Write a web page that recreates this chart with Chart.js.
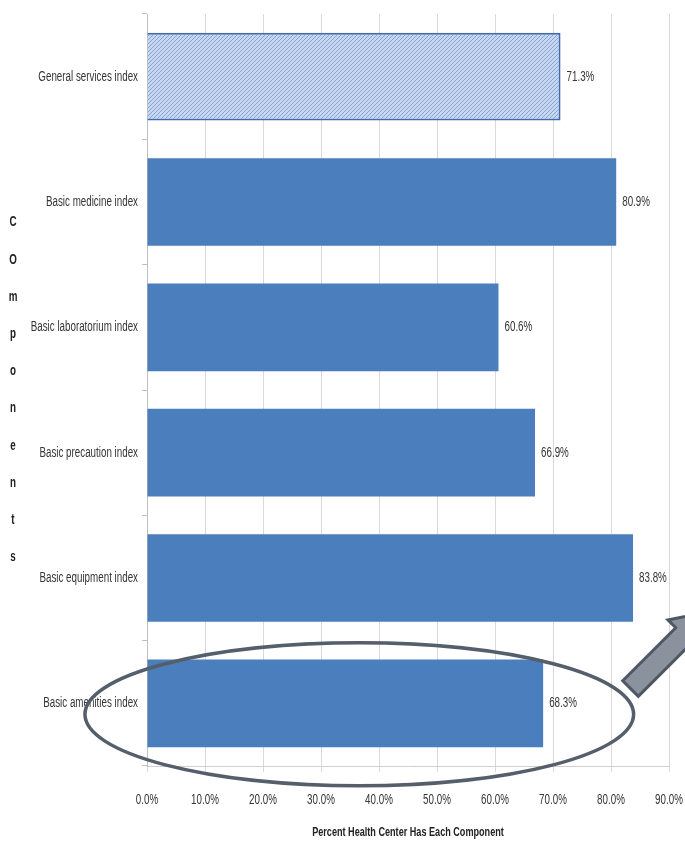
<!DOCTYPE html>
<html><head><meta charset="utf-8">
<script src="https://cdn.jsdelivr.net/npm/chart.js@4"></script>
<style>html,body{margin:0;padding:0;background:#fff;}</style>
</head><body>
<canvas id="c" width="685" height="849"></canvas>
<script>
const categories = ['General services index','Basic medicine index','Basic laboratorium index','Basic precaution index','Basic equipment index','Basic amenities index'];
const values = [71.3, 80.9, 60.6, 66.9, 83.8, 68.3];
const xTickValues = [0, 10, 20, 30, 40, 50, 60, 70, 80, 90];
const xAxisTitle = 'Percent Health Center Has Each Component';
const yAxisTitleLetters = ['C','O','m','p','o','n','e','n','t','s'];

const FONT = "'Liberation Sans', Arial, sans-serif";
const TXT = '#353535';
const TEXT_SX = 0.7; // horizontal condensing of all text

const canvas = document.getElementById('c');
const ctx2d = canvas.getContext('2d');
const nativeFill = ctx2d.fillText.bind(ctx2d);
ctx2d.fillText = function(text, x, y, maxWidth){
  this.save();
  this.translate(x, y);
  this.scale(TEXT_SX, 1);
  if (maxWidth === undefined || maxWidth === null) nativeFill(text, 0, 0);
  else nativeFill(text, 0, 0, maxWidth / TEXT_SX);
  this.restore();
};

function makePattern(){
  const p = document.createElement('canvas'); p.width = 4; p.height = 4;
  const g = p.getContext('2d');
  g.fillStyle = '#c6d7ef'; g.fillRect(0,0,4,4);
  g.fillStyle = '#86a5d6';
  for (let i = 0; i < 4; i++) g.fillRect(i, 3 - i, 1, 1);
  return g.createPattern(p, 'repeat');
}
const hatch = makePattern();

const valueLabelPlugin = {
  id: 'valueLabels',
  afterDatasetsDraw(chart){
    const ctx = chart.ctx;
    const meta = chart.getDatasetMeta(0);
    ctx.save();
    ctx.font = '14px ' + FONT;
    ctx.fillStyle = TXT;
    ctx.textAlign = 'left';
    ctx.textBaseline = 'middle';
    meta.data.forEach((bar, i) => {
      ctx.fillText(values[i].toFixed(1) + '%', bar.x + 6, bar.y);
    });
    ctx.restore();
  }
};

const yTitlePlugin = {
  id: 'yTitle',
  afterDraw(chart){
    const ctx = chart.ctx;
    const a = chart.chartArea;
    const mid = (a.top + a.bottom) / 2;
    const step = 37.2;
    ctx.save();
    ctx.font = 'bold 14px ' + FONT;
    ctx.fillStyle = '#222';
    ctx.textAlign = 'center';
    ctx.textBaseline = 'middle';
    yAxisTitleLetters.forEach((ch, i) => {
      ctx.fillText(ch, 13, mid + (i - (yAxisTitleLetters.length - 1) / 2) * step);
    });
    ctx.restore();
  }
};

const annotationPlugin = {
  id: 'highlight',
  afterDraw(chart){
    const ctx = chart.ctx;
    const xs = chart.scales.x, ys = chart.scales.y;
    const cx = xs.getPixelForValue(36.6);
    const rx = xs.getPixelForValue(47.3) - xs.getPixelForValue(0);
    const cy = ys.getPixelForValue(5) + 11;
    const ry = 71.5;
    ctx.save();
    ctx.strokeStyle = '#555e6b';
    ctx.lineWidth = 3.5;
    ctx.beginPath();
    ctx.ellipse(cx, cy, rx, ry, 0, 0, Math.PI * 2);
    ctx.stroke();

    // arrow pointing up-right
    const tx = 630.5, ty = 688.5;
    const dx = Math.SQRT1_2, dy = -Math.SQRT1_2;
    const nx = Math.SQRT1_2, ny = Math.SQRT1_2;
    const pt = (along, perp) => [tx + dx * along + nx * perp, ty + dy * along + ny * perp];
    const sw = 11, base = 75, hw = 22, tip = 108;
    const pts = [pt(0,-sw), pt(base,-sw), pt(base,-hw), pt(tip,0), pt(base,hw), pt(base,sw), pt(0,sw)];
    ctx.beginPath();
    ctx.moveTo(pts[0][0], pts[0][1]);
    for (let i = 1; i < pts.length; i++) ctx.lineTo(pts[i][0], pts[i][1]);
    ctx.closePath();
    ctx.fillStyle = '#8a929d';
    ctx.fill();
    ctx.strokeStyle = '#4f5764';
    ctx.lineWidth = 3;
    ctx.stroke();
    ctx.restore();
  }
};

new Chart(canvas, {
  type: 'bar',
  data: {
    labels: categories,
    datasets: [{
      data: values,
      backgroundColor: values.map((v, i) => i === 0 ? hatch : '#4a7ebd'),
      borderColor: '#4169ad',
      borderWidth: (c) => c.dataIndex === 0 ? 2 : 0,
      borderSkipped: 'start',
      barPercentage: 0.7,
      categoryPercentage: 1.0
    }]
  },
  options: {
    indexAxis: 'y',
    responsive: false,
    devicePixelRatio: 1,
    animation: false,
    layout: { padding: { top: 14, right: 16, left: 0, bottom: 0 } },
    plugins: { legend: { display: false }, tooltip: { enabled: false } },
    scales: {
      x: {
        type: 'linear',
        min: 0, max: 90,
        afterBuildTicks: (s) => { s.ticks = xTickValues.map(v => ({ value: v })); },
        ticks: {
          callback: (v) => Number(v).toFixed(1) + '%',
          color: TXT,
          font: { family: FONT, size: 14 },
          padding: 20,
          maxRotation: 0
        },
        grid: { color: '#d9d9d9', tickLength: 6, drawTicks: true },
        border: { color: '#cfcfcf' },
        title: {
          display: true,
          text: xAxisTitle,
          color: '#222',
          font: { family: FONT, size: 13, weight: 'bold' },
          padding: { top: 0, bottom: 9 }
        },
        afterFit: (s) => { s.height = 83; s.paddingLeft = 0; s.paddingRight = 0; }
      },
      y: {
        type: 'category',
        grid: { drawOnChartArea: false, drawTicks: true, tickLength: 5, color: '#bfbfbf', offset: true },
        border: { color: '#bfbfbf' },
        ticks: { color: TXT, font: { family: FONT, size: 14 }, padding: 4 },
        afterFit: (s) => { s.width = 147; s.paddingTop = 0; s.paddingBottom = 0; }
      }
    }
  },
  plugins: [valueLabelPlugin, annotationPlugin, yTitlePlugin]
});
</script>
</body></html>
